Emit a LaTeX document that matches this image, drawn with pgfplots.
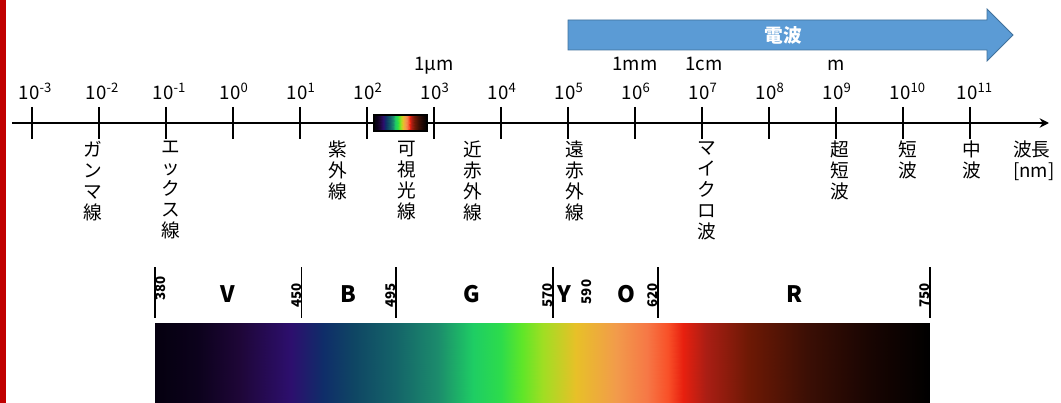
\documentclass[border=0pt]{standalone}
\usepackage{fontspec}
\setmainfont{Noto Sans CJK JP}
\usepackage{pgfplots}
\pgfplotsset{compat=1.18}
\usetikzlibrary{arrows.meta}

\definecolor{wave}{RGB}{91,155,213}
\definecolor{waveedge}{RGB}{65,113,156}
\definecolor{sidebar}{RGB}{192,0,0}

% visible spectrum, positions in nm
\pgfplotsset{colormap={visible}{
  rgb255(380pt)=(5,0,15) rgb255(400pt)=(12,2,28) rgb255(420pt)=(30,6,55)
  rgb255(445pt)=(45,15,110) rgb255(460pt)=(15,45,105) rgb255(475pt)=(15,70,100)
  rgb255(495pt)=(20,100,105) rgb255(515pt)=(28,140,108) rgb255(532pt)=(30,205,100)
  rgb255(545pt)=(45,220,75) rgb255(555pt)=(95,230,40) rgb255(565pt)=(160,222,35)
  rgb255(581pt)=(232,192,40) rgb255(600pt)=(242,155,75) rgb255(615pt)=(246,120,70)
  rgb255(625pt)=(248,80,40) rgb255(632pt)=(232,32,15) rgb255(643pt)=(170,30,20)
  rgb255(663pt)=(110,25,5) rgb255(691pt)=(60,15,5) rgb255(721pt)=(25,5,2)
  rgb255(750pt)=(0,0,0)}}

\newcommand\lbl{\fontsize{14}{15.75}\selectfont}

\begin{document}
\begin{tikzpicture}
% wavelength scale (x = log10 of nm, y in pixels from the top)
\begin{axis}[
    width=795.75pt, height=302.25pt, scale only axis,
    hide axis, clip=false, no markers,
    xmin=-3.4776, xmax=12.3582,
    ymin=0, ymax=403, y dir=reverse,
    point meta min=380, point meta max=750,
    colormap name=visible,
]
\addplot[fill=sidebar, draw=none] coordinates {(-3.4776,0) (-3.3881,0) (-3.3881,403) (-3.4776,403)} -- cycle;

% radio wave arrow
\addplot[fill=wave, draw=waveedge, line width=0.6pt] coordinates {
    (5,20) (11.254,20) (11.254,9) (11.642,35) (11.254,61) (11.254,50) (5,50)} -- cycle;
\node[text=white, font=\lbl\bfseries] at (axis cs:8.209,35) {電波};

% main line and ticks
\addplot[line width=1.7pt, -{Stealth[length=7pt,width=7pt]}] coordinates {(-3.299,123) (12.179,123)};
\pgfplotsinvokeforeach{-3,...,11}{
    \addplot[line width=2.2pt] coordinates {(#1,107) (#1,139)};
    \node[anchor=base west, xshift=-10pt, inner sep=0pt, font=\lbl] at (axis cs:#1,99) {10\textsuperscript{#1}};
}

% unit labels
\node[anchor=base, inner sep=0pt, font=\lbl] at (axis cs:3,71) {1μm};
\node[anchor=base, inner sep=0pt, font=\lbl] at (axis cs:6,71) {1mm};
\node[anchor=base, inner sep=0pt, font=\lbl] at (axis cs:7.03,71) {1cm};
\node[anchor=base, inner sep=0pt, font=\lbl] at (axis cs:9,71) {m};

% small visible band
\addplot[surf, shader=interp, mesh/rows=2, point meta=explicit] coordinates {
    (2.104,115) [380] (2.254,115) [450] (2.361,115) [500] (2.425,115) [530]
    (2.489,115) [560] (2.554,115) [590] (2.618,115) [620] (2.661,115) [640]
    (2.746,115) [680] (2.896,115) [750]
    (2.104,131) [380] (2.254,131) [450] (2.361,131) [500] (2.425,131) [530]
    (2.489,131) [560] (2.554,131) [590] (2.618,131) [620] (2.661,131) [640]
    (2.746,131) [680] (2.896,131) [750]
};
\addplot[draw=black, line width=0.9pt] coordinates {(2.104,115) (2.896,115) (2.896,131) (2.104,131)} -- cycle;

% band names
\tikzset{jp/.style={anchor=north, align=center, inner sep=0pt, font=\lbl}}
\node[jp] at (axis cs:-2.09,141) {ガ\\ン\\マ\\線};
\node[jp] at (axis cs:-0.925,141) {エ\\ッ\\ク\\ス\\線};
\node[jp] at (axis cs:1.567,141) {紫\\外\\線};
\node[jp] at (axis cs:2.597,141) {可\\視\\光\\線};
\node[jp] at (axis cs:3.582,141) {近\\赤\\外\\線};
\node[jp] at (axis cs:5.104,141) {遠\\赤\\外\\線};
\node[jp] at (axis cs:7.075,141) {マ\\イ\\ク\\ロ\\波};
\node[jp] at (axis cs:9.06,141) {超\\短\\波};
\node[jp] at (axis cs:10.075,141) {短\\波};
\node[jp] at (axis cs:11.03,141) {中\\波};
\node[anchor=north west, align=left, inner sep=0pt, font=\lbl] at (axis cs:11.642,141) {波長\\{}[nm]};

\path (rel axis cs:0,0) rectangle (rel axis cs:1,1);
\end{axis}

% visible spectrum (x in nm)
\begin{axis}[
    at={(116.25pt,0pt)}, anchor=south west,
    width=581.25pt, height=60pt, scale only axis,
    hide axis, clip=false, no markers,
    xmin=380, xmax=750, ymin=0, ymax=1,
    point meta min=380, point meta max=750,
    colormap name=visible,
]
\addplot[surf, shader=interp, mesh/rows=2, point meta=x] coordinates {
    (380,0) (400,0) (420,0) (445,0) (460,0) (475,0) (495,0) (515,0) (532,0) (545,0) (555,0)
    (565,0) (581,0) (600,0) (615,0) (625,0) (632,0) (643,0) (663,0) (691,0) (721,0) (750,0)
    (380,1) (400,1) (420,1) (445,1) (460,1) (475,1) (495,1) (515,1) (532,1) (545,1) (555,1)
    (565,1) (581,1) (600,1) (615,1) (625,1) (632,1) (643,1) (663,1) (691,1) (721,1) (750,1)
};
\pgfplotsinvokeforeach{380,450,495,570,620,750}{
    \addplot[line width=1.3pt] coordinates {(#1,1.0625) (#1,1.7)};
}
\tikzset{nm/.style={rotate=90, inner sep=0pt, font=\fontsize{10}{12}\selectfont\bfseries}}
\node[nm, anchor=north, xshift=2.5pt] at (axis cs:380,1.3875) {380};
\node[nm, anchor=south, xshift=-2.5pt] at (axis cs:450,1.3875) {450};
\node[nm, anchor=south, xshift=-2.5pt] at (axis cs:495,1.3875) {495};
\node[nm, anchor=south, xshift=-2.5pt] at (axis cs:570,1.3875) {570};
\node[nm] at (axis cs:586.2,1.3875) {590};
\node[nm, anchor=south, xshift=-2.5pt] at (axis cs:620,1.3875) {620};
\node[nm, anchor=south, xshift=-2.5pt] at (axis cs:750,1.3875) {750};

\tikzset{col/.style={inner sep=0pt, font=\fontsize{17}{20}\selectfont\bfseries}}
\node[col] at (axis cs:414.9,1.3625) {V};
\node[col] at (axis cs:472.1,1.3625) {B};
\node[col] at (axis cs:531.3,1.3625) {G};
\node[col] at (axis cs:575.3,1.3625) {Y};
\node[col] at (axis cs:604.9,1.3625) {O};
\node[col] at (axis cs:685.5,1.3625) {R};
\end{axis}
\end{tikzpicture}
\end{document}
